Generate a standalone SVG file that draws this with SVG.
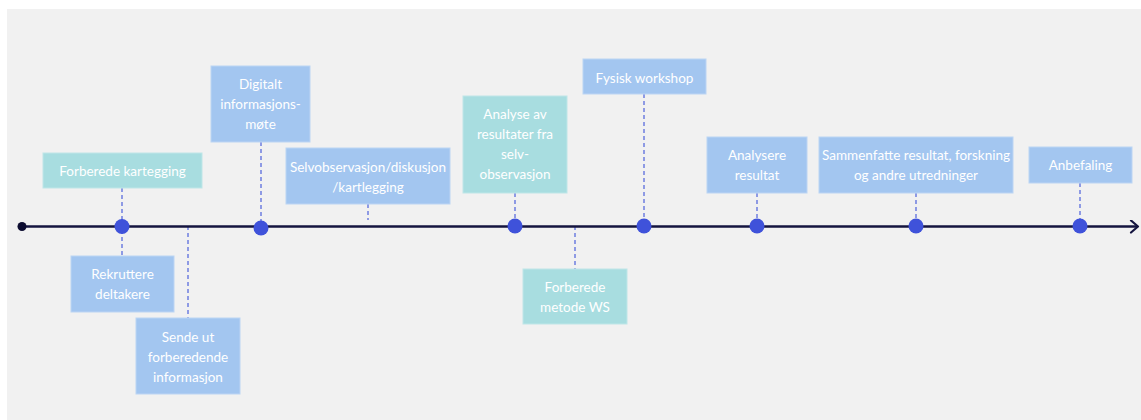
<svg xmlns="http://www.w3.org/2000/svg" width="1141" height="420" viewBox="0 0 1141 420">
<style>
.bg{fill:#f1f1f1}
.b{fill:#a3c6f0;stroke:#bcd5f4;stroke-width:1}
.t{fill:#a8dde0;stroke:#bfe6e8;stroke-width:1}
text{font-family:Lato,"Liberation Sans",sans-serif;font-size:13.5px;fill:#ffffff;text-anchor:middle}
.d{stroke:#6d7de0;stroke-width:1.5;stroke-dasharray:4 3;fill:none}
.dot{fill:#3f52da}
</style>
<defs>
<marker id="arr" markerWidth="12" markerHeight="14" refX="10" refY="7" orient="auto" markerUnits="userSpaceOnUse">
<path d="M3,1 L10,7 L3,13" fill="none" stroke="#14143f" stroke-width="2.2" stroke-linecap="round" stroke-linejoin="round"/>
</marker>
</defs>
<rect x="0" y="0" width="1141" height="420" fill="#ffffff"/>
<rect class="bg" x="7" y="9" width="1134" height="411"/>
<g id="connectors">
<line class="d" x1="122" y1="188" x2="122" y2="256"/>
<line class="d" x1="188" y1="226" x2="188" y2="318"/>
<line class="d" x1="261" y1="142" x2="261" y2="226"/>
<line class="d" x1="368" y1="204" x2="368" y2="220"/>
<line class="d" x1="515" y1="193" x2="515" y2="226"/>
<line class="d" x1="575" y1="226" x2="575" y2="269"/>
<line class="d" x1="644" y1="94" x2="644" y2="226"/>
<line class="d" x1="757" y1="193" x2="757" y2="226"/>
<line class="d" x1="916" y1="193" x2="916" y2="226"/>
<line class="d" x1="1080" y1="183" x2="1080" y2="226"/>
<line id="timeline" x1="22" y1="226.5" x2="1138" y2="226.5" stroke="#14143f" stroke-width="2.6" marker-end="url(#arr)"/>
<circle cx="22" cy="226.5" r="4.5" fill="#0c0c30"/>
<circle class="dot" cx="122" cy="226.5" r="7.5"/>
<circle class="dot" cx="261" cy="228" r="7.5"/>
<circle class="dot" cx="515" cy="226" r="7.5"/>
<circle class="dot" cx="644" cy="226" r="7.5"/>
<circle class="dot" cx="757" cy="226" r="7.5"/>
<circle class="dot" cx="916" cy="226" r="7.5"/>
<circle class="dot" cx="1080" cy="226" r="7.5"/>
</g>
<g id="n1"><rect class="t" x="43" y="153" width="159" height="35"/><text x="122.5" y="175.5">Forberede kartegging</text></g>
<g id="n2"><rect class="b" x="71" y="256" width="103" height="56"/><text x="122.5" y="278.5">Rekruttere</text><text x="122.5" y="298.5">deltakere</text></g>
<g id="n3"><rect class="b" x="136" y="318" width="104" height="76"/><text x="188" y="341.5">Sende ut</text><text x="188" y="361.5">forberedende</text><text x="188" y="381.5">informasjon</text></g>
<g id="n4"><rect class="b" x="211" y="66" width="99" height="76"/><text x="260.5" y="88.5">Digitalt</text><text x="260.5" y="108.5">informasjons-</text><text x="260.5" y="128.5">møte</text></g>
<g id="n5"><rect class="b" x="286" y="148" width="164" height="56"/><text x="368" y="171.5">Selvobservasjon/diskusjon</text><text x="368" y="191.5">/kartlegging</text></g>
<g id="n6"><rect class="t" x="463" y="96" width="104" height="97"/><text x="515" y="118.5">Analyse av</text><text x="515" y="138.5">resultater fra</text><text x="515" y="158.5">selv-</text><text x="515" y="178.5">observasjon</text></g>
<g id="n7"><rect class="t" x="523" y="269" width="104" height="55"/><text x="575" y="291.5">Forberede</text><text x="575" y="311.5">metode WS</text></g>
<g id="n8"><rect class="b" x="583" y="59" width="123" height="35"/><text x="644.5" y="82.5">Fysisk workshop</text></g>
<g id="n9"><rect class="b" x="707" y="137" width="100" height="56"/><text x="757" y="159.5">Analysere</text><text x="757" y="179.5">resultat</text></g>
<g id="n10"><rect class="b" x="819" y="137" width="194" height="56"/><text x="916" y="159.5">Sammenfatte resultat, forskning</text><text x="916" y="179.5">og andre utredninger</text></g>
<g id="n11"><rect class="b" x="1029" y="147" width="103" height="36"/><text x="1080.5" y="169.5">Anbefaling</text></g>
</svg>
